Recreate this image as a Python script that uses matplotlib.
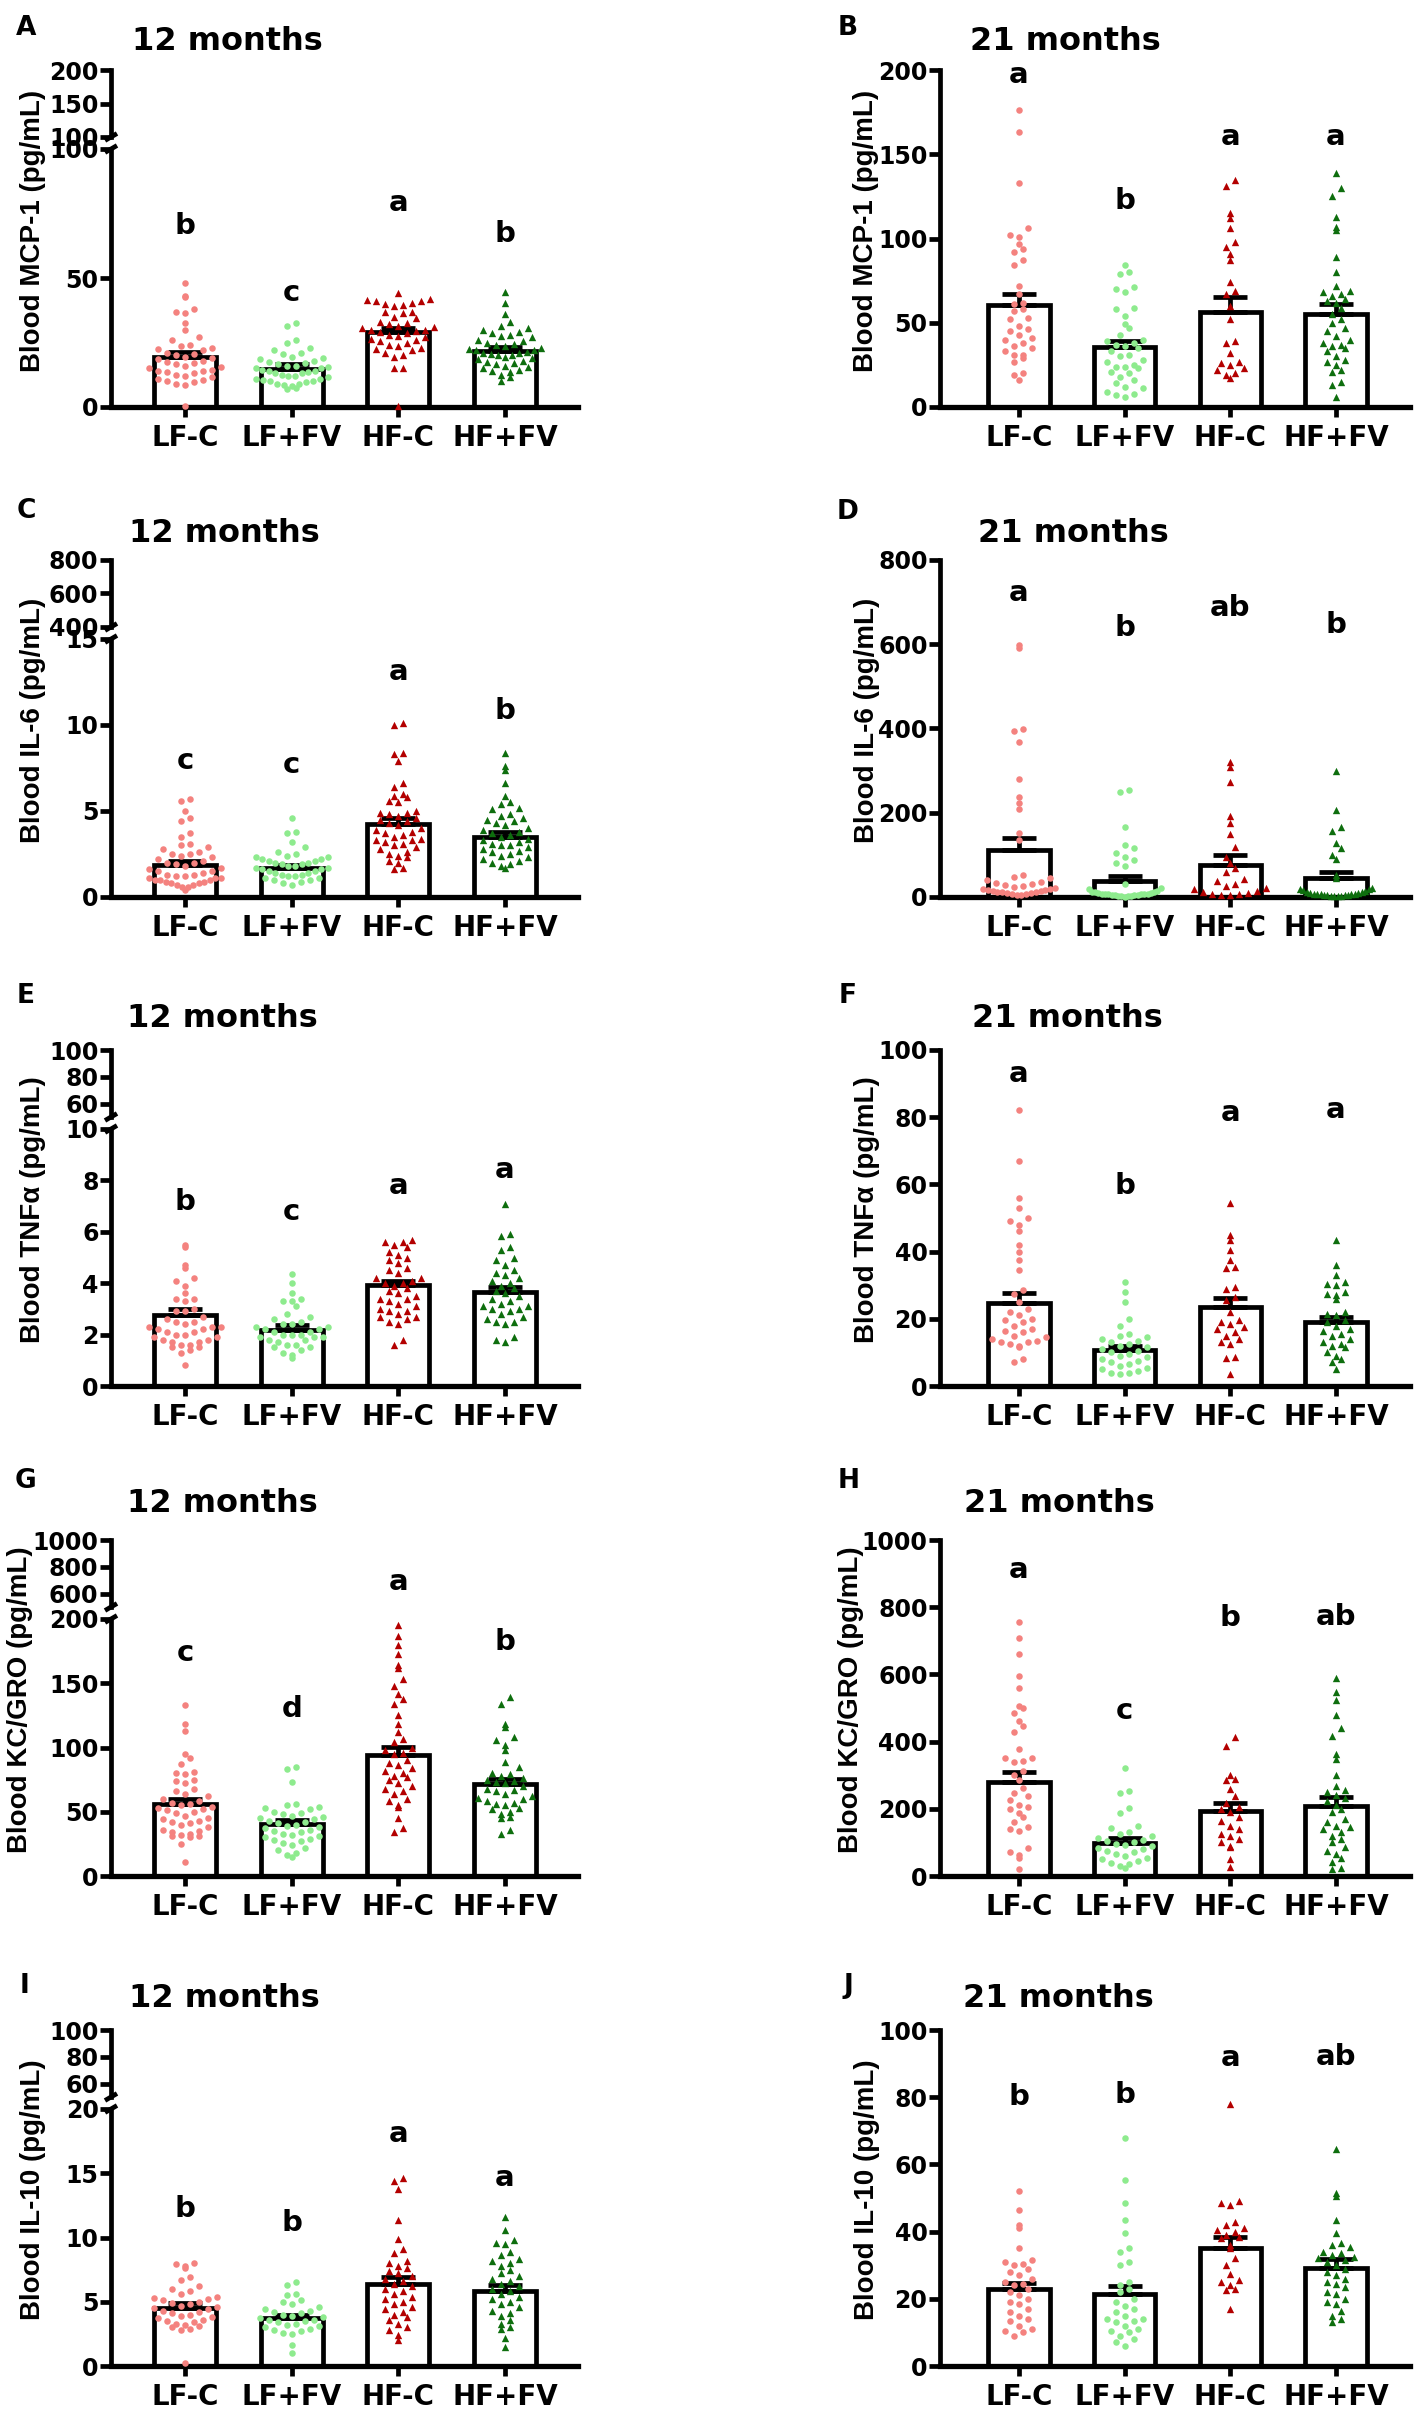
import numpy as np
import matplotlib
matplotlib.use("Agg")
import matplotlib.pyplot as plt
from matplotlib.lines import Line2D

plt.rcParams['font.family'] = ['DejaVu Sans']

groups = ["LF-C", "LF+FV", "HF-C", "HF+FV"]

# ---------------- A: MCP-1, 12 months ----------------
mcp1_m12_lfc = [48, 43, 42.5, 38, 37, 36.5, 32.5, 30, 27, 26, 24, 23.5, 23, 22.5, 22, 21, 20.5, 20, 19.5, 19,
                18.5, 18, 17.5, 17, 16.5, 16, 15.5, 15, 14.5, 14, 14, 13.5, 13, 12.5, 12, 11.5, 11, 10.5, 10,
                9.5, 9, 8.5, 0.5]
mcp1_m12_lffv = [32.5, 31.5, 26, 25, 23, 22, 21, 20.5, 19.5, 19, 18.5, 18, 17.5, 17, 16.5, 16, 16, 15.5, 15,
                 15, 14.5, 14, 14, 13.5, 13, 13, 12.5, 12, 12, 11.5, 11, 11, 10.5, 10, 10, 9.5, 9, 9, 8.5, 8,
                 7.5, 7]
mcp1_m12_hfc = [44, 42, 41.5, 41, 41, 40.5, 40, 39.5, 39, 37, 37, 36.5, 35, 34.5, 33, 32.5, 32, 31.5, 31, 30.5,
                30, 30, 29.5, 29, 28.5, 28, 27.5, 27, 26.5, 26, 25.5, 25, 24, 23.5, 23, 22.5, 22, 21, 20, 19.5,
                15, 15, 0.3]
mcp1_m12_hffv = [44.5, 40.5, 36, 33, 31.5, 30.5, 30, 29, 28.5, 28, 27.5, 27, 26, 25.5, 25, 24.5, 24, 23.5, 23,
                 22.5, 22, 22, 21.5, 21, 21, 20.5, 20, 20, 19.5, 19, 18.5, 18, 17.5, 17, 16.5, 16, 15.5, 15,
                 14.5, 14, 13.5, 12.5, 11.5, 10]
mcp1_m12_mean = [19.2, 14.7, 29.0, 21.7]
mcp1_m12_sem = [2.2, 1.8, 1.5, 1.7]
mcp1_m12_letters = ["b", "c", "a", "b"]
mcp1_m12_letter_y = [70, 44, 79, 67]

# ---------------- B: MCP-1, 21 months ----------------
mcp1_m21_lfc = [176, 163, 133, 106, 102, 101, 97, 94, 92, 87, 84, 72, 67, 62, 61, 58, 57, 53, 52, 48, 46, 45,
                43, 41, 40, 38, 36, 35, 33, 31, 31, 29, 27, 20, 19, 16]
mcp1_m21_lffv = [84, 80, 79, 71, 70, 68, 59, 58, 54, 49, 47, 43, 40, 39, 38, 37, 36, 35, 33, 31, 30, 28, 27, 25,
                 24, 24, 23, 21, 20, 18, 16, 14, 12, 11, 9, 8, 7, 6]
mcp1_m21_hfc = [135, 131, 115, 112, 106, 98, 95, 91, 87, 74, 69, 67, 60, 52, 39, 38, 32, 27, 26, 25, 23, 22, 20,
                19, 17]
mcp1_m21_hffv = [139, 130, 125, 113, 107, 105, 89, 80, 72, 69, 68, 67, 66, 64, 63, 62, 59, 55, 52, 50, 47, 45,
                 42, 40, 38, 37, 36, 35, 33, 30, 28, 27, 25, 22, 21, 15, 13, 6]
mcp1_m21_mean = [60.4, 35.6, 56.4, 55.4]
mcp1_m21_sem = [6.9, 3.6, 8.9, 5.6]
mcp1_m21_letters = ["a", "b", "a", "a"]
mcp1_m21_letter_y = [197, 122, 160, 160]

# ---------------- C: IL-6, 12 months ----------------
il6_m12_lfc = [5.7, 5.6, 5.0, 4.6, 4.4, 3.7, 3.5, 3.1, 3.0, 2.9, 2.8, 2.6, 2.5, 2.5, 2.4, 2.3, 2.2, 2.1, 2.0, 2.0,
               1.9, 1.8, 1.7, 1.6, 1.5, 1.5, 1.4, 1.3, 1.3, 1.2, 1.2, 1.1, 1.1, 1.1, 1.0, 1.0, 1.0, 0.9, 0.9,
               0.8, 0.8, 0.7, 0.7, 0.6, 0.6, 0.4]
il6_m12_lffv = [4.6, 3.8, 3.7, 3.2, 2.9, 2.6, 2.5, 2.4, 2.3, 2.3, 2.2, 2.2, 2.1, 2.1, 2.0, 2.0, 1.9, 1.9, 1.8,
                1.8, 1.7, 1.7, 1.6, 1.6, 1.5, 1.5, 1.4, 1.4, 1.3, 1.3, 1.2, 1.2, 1.1, 1.1, 1.0, 1.0, 0.9, 0.8,
                0.7]
il6_m12_hfc = [10.1, 10.0, 8.4, 8.3, 7.9, 6.6, 6.4, 6.0, 5.9, 5.8, 5.6, 5.5, 5.0, 4.9, 4.9, 4.8, 4.7, 4.6, 4.5,
               4.4, 4.3, 4.2, 4.0, 3.9, 3.8, 3.7, 3.6, 3.5, 3.4, 3.3, 3.3, 3.2, 3.1, 3.0, 2.9, 2.8, 2.6, 2.5,
               2.4, 2.3, 2.1, 2.0, 1.7, 1.6]
il6_m12_hffv = [8.4, 7.6, 7.4, 6.6, 5.9, 5.5, 5.4, 5.2, 5.1, 4.8, 4.7, 4.6, 4.5, 4.4, 4.3, 4.2, 4.0, 3.9, 3.8,
                3.7, 3.6, 3.5, 3.4, 3.3, 3.2, 3.1, 3.0, 3.0, 2.9, 2.8, 2.7, 2.6, 2.5, 2.4, 2.3, 2.2, 2.1, 2.0,
                1.9, 1.8, 1.7]
il6_m12_mean = [1.85, 1.7, 4.27, 3.5]
il6_m12_sem = [0.25, 0.15, 0.33, 0.3]
il6_m12_letters = ["c", "c", "a", "b"]
il6_m12_letter_y = [7.9, 7.7, 13.1, 10.8]

# ---------------- D: IL-6, 21 months ----------------
il6_m21_lfc = [598, 590, 398, 394, 368, 280, 238, 222, 210, 153, 136, 52, 48, 44, 40, 36, 33, 30, 28, 26, 24,
               22, 20, 18, 17, 16, 15, 14, 13, 12, 11, 10, 9, 8, 6, 5, 4]
il6_m21_lffv = [255, 250, 166, 124, 116, 104, 95, 88, 80, 74, 32, 22, 18, 15, 13, 12, 11, 10, 9, 8, 8, 7, 7, 6,
                6, 5, 5, 4, 4, 3, 3, 2, 2, 1]
il6_m21_hfc = [320, 308, 274, 193, 175, 149, 118, 95, 80, 68, 60, 42, 38, 30, 25, 22, 18, 15, 12, 10, 8, 6, 5, 4]
il6_m21_hffv = [298, 207, 165, 156, 128, 116, 100, 90, 52, 45, 22, 20, 18, 16, 14, 12, 11, 10, 9, 8, 7, 7, 6, 6,
                5, 5, 4, 4, 3, 3, 2, 2]
il6_m21_mean = [112, 37, 75, 44]
il6_m21_sem = [29, 14, 24, 15]
il6_m21_letters = ["a", "b", "ab", "b"]
il6_m21_letter_y = [721, 638, 685, 646]

# ---------------- E: TNFa, 12 months ----------------
tnf_m12_lfc = [5.5, 5.4, 4.7, 4.6, 4.2, 4.1, 3.9, 3.6, 3.4, 3.4, 3.3, 3.0, 2.9, 2.9, 2.7, 2.6, 2.5, 2.5, 2.4,
               2.3, 2.3, 2.3, 2.2, 2.2, 2.1, 2.1, 2.0, 2.0, 1.9, 1.9, 1.8, 1.8, 1.7, 1.7, 1.6, 1.6, 1.5, 1.5,
               1.4, 1.3, 0.8]
tnf_m12_lffv = [4.35, 4.0, 3.6, 3.4, 3.3, 3.3, 3.1, 2.8, 2.7, 2.6, 2.5, 2.4, 2.4, 2.3, 2.3, 2.2, 2.2, 2.1, 2.1,
                2.0, 2.0, 2.0, 1.9, 1.9, 1.9, 1.8, 1.8, 1.7, 1.6, 1.6, 1.5, 1.5, 1.4, 1.3, 1.2, 1.1]
tnf_m12_hfc = [5.7, 5.6, 5.6, 5.5, 5.4, 5.2, 5.1, 5.0, 4.9, 4.8, 4.6, 4.5, 4.4, 4.2, 4.2, 4.1, 4.0, 4.0, 3.9,
               3.8, 3.7, 3.6, 3.5, 3.4, 3.4, 3.3, 3.2, 3.1, 3.0, 2.9, 2.9, 2.8, 2.7, 2.7, 2.6, 2.5, 2.4, 1.8,
               1.6]
tnf_m12_hffv = [7.1, 5.9, 5.85, 5.4, 5.3, 5.0, 4.9, 4.7, 4.5, 4.4, 4.3, 4.2, 4.1, 4.0, 3.9, 3.8, 3.7, 3.6, 3.5,
                3.4, 3.3, 3.2, 3.1, 3.1, 3.0, 3.0, 2.9, 2.8, 2.7, 2.6, 2.5, 2.5, 2.4, 1.9, 1.8, 1.7]
tnf_m12_mean = [2.76, 2.17, 3.92, 3.64]
tnf_m12_sem = [0.22, 0.2, 0.18, 0.22]
tnf_m12_letters = ["b", "c", "a", "a"]
tnf_m12_letter_y = [7.16, 6.77, 7.77, 8.39]

# ---------------- F: TNFa, 21 months ----------------
tnf_m21_lfc = [82, 67, 56, 53, 50, 49, 48, 46, 42, 40, 37.5, 34.5, 28.5, 27.5, 25, 23, 22, 21, 20, 19.5, 19, 18,
               17, 16.5, 16, 15, 14.5, 14, 13.5, 13, 13, 12.5, 12, 11.5, 8, 7]
tnf_m21_lffv = [31, 28, 25, 20, 18, 15.5, 15, 14.5, 14, 13.5, 13, 12.5, 12, 11.5, 11, 10.5, 10, 9.5, 9, 8.5, 8,
                7.5, 7, 6.5, 6, 5.5, 5, 4.5, 4, 4, 3.5]
tnf_m21_hfc = [54.5, 45, 43.5, 40.5, 37.5, 35.5, 35, 29.5, 29, 26.5, 25.5, 22, 19.5, 19, 18.5, 17.5, 17, 16, 15,
               14, 13, 12.5, 8.7, 8.2, 3.6]
tnf_m21_hffv = [43.5, 36, 33, 31, 30.5, 30, 28, 27.5, 27, 26, 22, 21.5, 21, 19.5, 19, 18, 17, 16.5, 15.5, 15, 14,
                13, 12.5, 12, 11.5, 10, 9, 8, 7, 5]
tnf_m21_mean = [24.6, 10.7, 23.4, 19.0]
tnf_m21_sem = [3.0, 1.2, 2.7, 1.6]
tnf_m21_letters = ["a", "b", "a", "a"]
tnf_m21_letter_y = [93, 59.5, 81.3, 82]

# ---------------- G: KC/GRO, 12 months ----------------
kc_m12_lfc = [133, 118, 113, 95, 92, 87, 81, 80, 79, 75, 74, 72, 68, 66, 64, 62, 60, 58, 57, 56, 55, 54, 53, 52,
              51, 50, 49, 47, 45, 44, 43, 42, 41, 40, 38, 36, 35, 34, 33, 32, 31, 31, 30, 25, 11]
kc_m12_lffv = [85, 83, 73, 56, 55, 54, 53, 52, 50, 49, 48, 47, 46, 45, 44, 43, 42, 41, 40, 39, 38, 37, 36, 35,
               34, 33, 32, 31, 30, 29, 28, 27, 26, 24, 22, 20, 18, 16, 15]
kc_m12_hfc = [195, 187, 180, 173, 164, 162, 153, 148, 142, 138, 134, 125, 118, 112, 107, 104, 100, 98, 96, 95,
              90, 88, 86, 84, 82, 80, 78, 77, 75, 72, 70, 68, 66, 64, 60, 58, 55, 54, 45, 37, 34]
kc_m12_hffv = [139, 134, 118, 116, 108, 106, 102, 98, 89, 85, 80, 79, 78, 76, 75, 74, 73, 72, 70, 68, 67, 66, 64,
               62, 61, 60, 58, 57, 56, 55, 53, 52, 50, 48, 46, 45, 36, 33]
kc_m12_mean = [56.4, 40.3, 93.9, 71.9]
kc_m12_sem = [3.9, 3.1, 6.4, 3.9]
kc_m12_letters = ["c", "d", "a", "b"]
kc_m12_letter_y = [173.7, 130, 229, 182]

# ---------------- H: KC/GRO, 21 months ----------------
kc_m21_lfc = [755, 708, 661, 596, 559, 507, 500, 485, 460, 445, 430, 378, 351, 350, 341, 338, 312, 300, 287, 262,
              248, 238, 225, 210, 205, 198, 188, 175, 160, 145, 139, 135, 84, 70, 62, 54, 22]
kc_m21_lffv = [322, 252, 248, 203, 188, 148, 144, 130, 124, 118, 112, 108, 104, 100, 96, 92, 88, 84, 80, 75, 70,
               64, 60, 55, 50, 45, 40, 35, 30, 25]
kc_m21_hfc = [415, 388, 302, 290, 285, 258, 238, 218, 205, 200, 190, 175, 165, 150, 140, 125, 120, 110, 100, 90,
              85, 50, 28]
kc_m21_hffv = [590, 548, 525, 480, 440, 418, 362, 348, 302, 268, 255, 250, 240, 232, 222, 210, 200, 190, 170, 160,
               150, 145, 140, 130, 120, 110, 100, 85, 75, 65, 55, 42, 25, 20]
kc_m21_mean = [279, 99, 193, 208]
kc_m21_sem = [30, 15, 23, 27]
kc_m21_letters = ["a", "c", "b", "ab"]
kc_m21_letter_y = [911, 490, 767, 772]

# ---------------- I: IL-10, 12 months ----------------
il10_m12_lfc = [8.0, 7.9, 7.8, 7.6, 6.9, 6.7, 6.2, 6.0, 5.8, 5.6, 5.4, 5.3, 5.2, 5.1, 5.0, 4.9, 4.8, 4.7, 4.6,
                4.5, 4.4, 4.3, 4.2, 4.1, 4.0, 3.9, 3.8, 3.7, 3.6, 3.5, 3.4, 3.3, 3.2, 3.1, 3.0, 2.9, 2.8, 0.25]
il10_m12_lffv = [6.5, 6.3, 5.6, 5.5, 5.1, 5.0, 4.8, 4.6, 4.4, 4.3, 4.2, 4.1, 4.0, 3.9, 3.8, 3.7, 3.6, 3.6, 3.5,
                 3.4, 3.3, 3.2, 3.1, 3.0, 2.9, 2.8, 2.7, 2.6, 2.5, 1.6, 1.0]
il10_m12_hfc = [14.6, 14.4, 13.8, 11.4, 9.9, 9.1, 8.8, 8.2, 8.0, 7.8, 7.6, 7.4, 7.2, 7.0, 6.8, 6.6, 6.4, 6.2, 6.0,
                5.8, 5.6, 5.4, 5.2, 5.0, 4.8, 4.6, 4.4, 4.2, 4.0, 3.8, 3.6, 3.3, 3.0, 2.8, 2.4, 2.0]
il10_m12_hffv = [11.6, 10.6, 9.8, 9.6, 9.5, 8.9, 8.6, 8.3, 8.2, 8.0, 7.8, 7.5, 7.2, 7.0, 6.8, 6.6, 6.4, 6.2, 6.0,
                 5.8, 5.6, 5.4, 5.2, 5.0, 4.8, 4.6, 4.3, 4.1, 3.9, 3.6, 3.3, 3.0, 2.9, 2.2, 1.5]
il10_m12_mean = [4.55, 3.7, 6.4, 5.84]
il10_m12_sem = [0.35, 0.25, 0.5, 0.44]
il10_m12_letters = ["b", "b", "a", "a"]
il10_m12_letter_y = [12.2, 11.1, 18.05, 14.6]

# ---------------- J: IL-10, 21 months ----------------
il10_m21_lfc = [52, 46.5, 42, 41, 35, 31.5, 31, 30.5, 30, 29, 28, 27, 26, 25, 24.5, 24, 23, 22, 21, 20, 19, 18.5,
                17, 16, 15, 14, 13.5, 12, 11, 10.5, 10, 9]
il10_m21_lffv = [68, 55.5, 48.5, 43.5, 39.5, 35, 34, 31, 30, 25, 24, 23, 22, 20, 19, 18, 17, 16, 15, 14, 14,
                 13.5, 13, 12, 11, 10.5, 10, 9, 8, 7, 6]
il10_m21_hfc = [78, 49, 48.5, 48, 43, 42, 41, 40.5, 40, 39, 38.5, 38, 36, 35, 32, 30, 27.5, 25.5, 25, 24, 23,
                22.5, 17]
il10_m21_hffv = [64.5, 51.5, 50.5, 43.5, 39.5, 36.5, 36, 35.5, 34, 33.5, 33, 32.5, 32, 31.5, 31, 30, 29, 28, 27,
                 26, 25, 24.5, 23.5, 22, 21.5, 20, 19, 18.5, 16.5, 15, 14, 13]
il10_m21_mean = [22.8, 21.3, 35.1, 29.2]
il10_m21_sem = [2.0, 2.5, 3.2, 2.5]
il10_m21_letters = ["b", "b", "a", "ab"]
il10_m21_letter_y = [80.2, 80.7, 91.6, 92.1]

# ---------------- styles / layout ----------------
colors = ["#F4827F", "#8EEB8E", "#B30000", "#0E6E0E"]
markers = ["o", "o", "^", "^"]

W, H, DPI = 1418, 2417, 100
fig = plt.figure(figsize=(W / DPI, H / DPI), dpi=DPI)
fig.patch.set_facecolor("white")

col_x = [(111, 578), (940, 1410)]
col_xlim = [(-0.694, 3.684), (-0.747, 3.70)]
row_top = [70, 560, 1050, 1540, 2030]
row_bot = [407, 897, 1386, 1876, 2366]

panels = [
    dict(tag="A", col=0, row=0, title="12 months", ylabel="Blood MCP-1 (pg/mL)",
         groups=[mcp1_m12_lfc, mcp1_m12_lffv, mcp1_m12_hfc, mcp1_m12_hffv],
         mean=mcp1_m12_mean, sem=mcp1_m12_sem, letters=mcp1_m12_letters, ly=mcp1_m12_letter_y,
         ylim=(0, 100), yticks=[0, 50, 100], top=((100, 200), [100, 150, 200]),
         tag_xy=(26, 35), title_xy=(227, 50), ylab_x=33),
    dict(tag="B", col=1, row=0, title="21 months", ylabel="Blood MCP-1 (pg/mL)",
         groups=[mcp1_m21_lfc, mcp1_m21_lffv, mcp1_m21_hfc, mcp1_m21_hffv],
         mean=mcp1_m21_mean, sem=mcp1_m21_sem, letters=mcp1_m21_letters, ly=mcp1_m21_letter_y,
         ylim=(0, 200), yticks=[0, 50, 100, 150, 200], top=None,
         tag_xy=(848, 35), title_xy=(1065, 50), ylab_x=866),
    dict(tag="C", col=0, row=1, title="12 months", ylabel="Blood IL-6 (pg/mL)",
         groups=[il6_m12_lfc, il6_m12_lffv, il6_m12_hfc, il6_m12_hffv],
         mean=il6_m12_mean, sem=il6_m12_sem, letters=il6_m12_letters, ly=il6_m12_letter_y,
         ylim=(0, 15), yticks=[0, 5, 10, 15], top=((400, 800), [400, 600, 800]),
         tag_xy=(26, 518), title_xy=(224, 542), ylab_x=33),
    dict(tag="D", col=1, row=1, title="21 months", ylabel="Blood IL-6 (pg/mL)",
         groups=[il6_m21_lfc, il6_m21_lffv, il6_m21_hfc, il6_m21_hffv],
         mean=il6_m21_mean, sem=il6_m21_sem, letters=il6_m21_letters, ly=il6_m21_letter_y,
         ylim=(0, 800), yticks=[0, 200, 400, 600, 800], top=None,
         tag_xy=(848, 519), title_xy=(1073, 542), ylab_x=867),
    dict(tag="E", col=0, row=2, title="12 months", ylabel="Blood TNFα (pg/mL)",
         groups=[tnf_m12_lfc, tnf_m12_lffv, tnf_m12_hfc, tnf_m12_hffv],
         mean=tnf_m12_mean, sem=tnf_m12_sem, letters=tnf_m12_letters, ly=tnf_m12_letter_y,
         ylim=(0, 10), yticks=[0, 2, 4, 6, 8, 10], top=((50, 100), [60, 80, 100]),
         tag_xy=(26, 1003), title_xy=(222, 1027), ylab_x=33),
    dict(tag="F", col=1, row=2, title="21 months", ylabel="Blood TNFα (pg/mL)",
         groups=[tnf_m21_lfc, tnf_m21_lffv, tnf_m21_hfc, tnf_m21_hffv],
         mean=tnf_m21_mean, sem=tnf_m21_sem, letters=tnf_m21_letters, ly=tnf_m21_letter_y,
         ylim=(0, 100), yticks=[0, 20, 40, 60, 80, 100], top=None,
         tag_xy=(848, 1003), title_xy=(1067, 1027), ylab_x=867),
    dict(tag="G", col=0, row=3, title="12 months", ylabel="Blood KC/GRO (pg/mL)",
         groups=[kc_m12_lfc, kc_m12_lffv, kc_m12_hfc, kc_m12_hffv],
         mean=kc_m12_mean, sem=kc_m12_sem, letters=kc_m12_letters, ly=kc_m12_letter_y,
         ylim=(0, 200), yticks=[0, 50, 100, 150, 200], top=((500, 1000), [600, 800, 1000]),
         tag_xy=(26, 1488), title_xy=(222, 1512), ylab_x=20),
    dict(tag="H", col=1, row=3, title="21 months", ylabel="Blood KC/GRO (pg/mL)",
         groups=[kc_m21_lfc, kc_m21_lffv, kc_m21_hfc, kc_m21_hffv],
         mean=kc_m21_mean, sem=kc_m21_sem, letters=kc_m21_letters, ly=kc_m21_letter_y,
         ylim=(0, 1000), yticks=[0, 200, 400, 600, 800, 1000], top=None,
         tag_xy=(849, 1488), title_xy=(1059, 1512), ylab_x=851),
    dict(tag="I", col=0, row=4, title="12 months", ylabel="Blood IL-10 (pg/mL)",
         groups=[il10_m12_lfc, il10_m12_lffv, il10_m12_hfc, il10_m12_hffv],
         mean=il10_m12_mean, sem=il10_m12_sem, letters=il10_m12_letters, ly=il10_m12_letter_y,
         ylim=(0, 20), yticks=[0, 5, 10, 15, 20], top=((50, 100), [60, 80, 100]),
         tag_xy=(25, 1993), title_xy=(224, 2007), ylab_x=33),
    dict(tag="J", col=1, row=4, title="21 months", ylabel="Blood IL-10 (pg/mL)",
         groups=[il10_m21_lfc, il10_m21_lffv, il10_m21_hfc, il10_m21_hffv],
         mean=il10_m21_mean, sem=il10_m21_sem, letters=il10_m21_letters, ly=il10_m21_letter_y,
         ylim=(0, 100), yticks=[0, 20, 40, 60, 80, 100], top=None,
         tag_xy=(848, 1993), title_xy=(1058, 2007), ylab_x=867),
]

LW = 3.4
TICK_FS = 17
XT_FS = 20


def rect(x0, y0, x1, y1):
    return [x0 / W, 1 - y1 / H, (x1 - x0) / W, (y1 - y0) / H]


def row_offsets(vals, ypx, dy, dx, maxw):
    """GraphPad-like scatter: points binned into horizontal rows, spread sideways."""
    vals = np.asarray(vals, float)
    bins = np.floor(vals * ypx / dy).astype(int)
    xs = np.zeros(len(vals))
    for b in np.unique(bins):
        idx = np.where(bins == b)[0]
        idx = idx[np.argsort(vals[idx])]
        n = len(idx)
        step = dx if (n - 1) * dx <= maxw else maxw / max(n - 1, 1)
        pos = (np.arange(n) - (n - 1) / 2.0) * step
        order = np.argsort(np.abs(pos), kind="stable")
        for k, j in enumerate(idx):
            xs[j] = pos[order[k]]
    return xs


def style_axis(ax, xlim, ylim, yticks, show_x):
    ax.set_xlim(*xlim)
    ax.set_ylim(*ylim)
    ax.set_facecolor("none")
    for s in ["top", "right"]:
        ax.spines[s].set_visible(False)
    ax.spines["left"].set_linewidth(LW)
    ax.spines["bottom"].set_linewidth(LW + 0.4)
    ax.set_yticks(yticks)
    ax.set_yticklabels([str(t) for t in yticks], fontsize=TICK_FS, fontweight="bold")
    ax.tick_params(axis="y", direction="out", length=8, width=LW, pad=1)
    if show_x:
        ax.set_xticks(range(4))
        ax.set_xticklabels(groups, fontsize=XT_FS, fontweight="bold")
        ax.tick_params(axis="x", direction="out", length=7, width=LW, pad=5)
    else:
        ax.spines["bottom"].set_visible(False)
        ax.set_xticks([])


def break_mark(xpx, ypx):
    dx, dy = 6, 3.5
    fig.add_artist(Line2D([(xpx - dx) / W, (xpx + dx) / W], [1 - (ypx + dy) / H, 1 - (ypx - dy) / H],
                          color="black", lw=LW, solid_capstyle="butt"))


for p in panels:
    x0, x1 = col_x[p["col"]]
    xlim = col_xlim[p["col"]]
    top, bot = row_top[p["row"]], row_bot[p["row"]]
    if p["top"] is not None:
        seg_top_bot = top + 67
        main_top = top + 79
        axt = fig.add_axes(rect(x0, top, x1, seg_top_bot))
        style_axis(axt, xlim, p["top"][0], p["top"][1], False)
        ax = fig.add_axes(rect(x0, main_top, x1, bot))
        style_axis(ax, xlim, p["ylim"], p["yticks"], True)
        break_mark(x0, seg_top_bot)
        break_mark(x0, main_top)
    else:
        main_top = top
        ax = fig.add_axes(rect(x0, main_top, x1, bot))
        style_axis(ax, xlim, p["ylim"], p["yticks"], True)

    ypx = (bot - main_top) / (p["ylim"][1] - p["ylim"][0])
    xpx = (x1 - x0) / (xlim[1] - xlim[0])
    xs = np.arange(4)
    ax.bar(xs, p["mean"], width=0.58, facecolor="white", edgecolor="black", linewidth=LW, zorder=2)
    ax.errorbar(xs, p["mean"], yerr=[np.zeros(4), p["sem"]], fmt="none", ecolor="black",
                elinewidth=LW, capsize=12.5, capthick=LW, zorder=3)
    for i, vals in enumerate(p["groups"]):
        off = row_offsets(vals, ypx, 10, 9, 72) / xpx
        ax.scatter(i + off, vals, s=22 if markers[i] == "o" else 28, marker=markers[i],
                   color=colors[i], linewidths=0, zorder=4, clip_on=False)
    for i, (lt, ly) in enumerate(zip(p["letters"], p["ly"])):
        ax.text(i, ly, lt, ha="center", va="center", fontsize=21, fontweight="bold", clip_on=False)

    fig.text(p["tag_xy"][0] / W, 1 - p["tag_xy"][1] / H, p["tag"], ha="center", va="baseline",
             fontsize=19, fontweight="bold")
    fig.text(p["title_xy"][0] / W, 1 - p["title_xy"][1] / H, p["title"], ha="center", va="baseline",
             fontsize=23, fontweight="bold")
    yc = (top + bot) / 2 - 8
    fig.text(p["ylab_x"] / W, 1 - yc / H, p["ylabel"], rotation=90, ha="center", va="center",
             fontsize=20, fontweight="bold", family=["Liberation Sans", "DejaVu Sans"])

fig.savefig("out.png", dpi=DPI, facecolor="white")
